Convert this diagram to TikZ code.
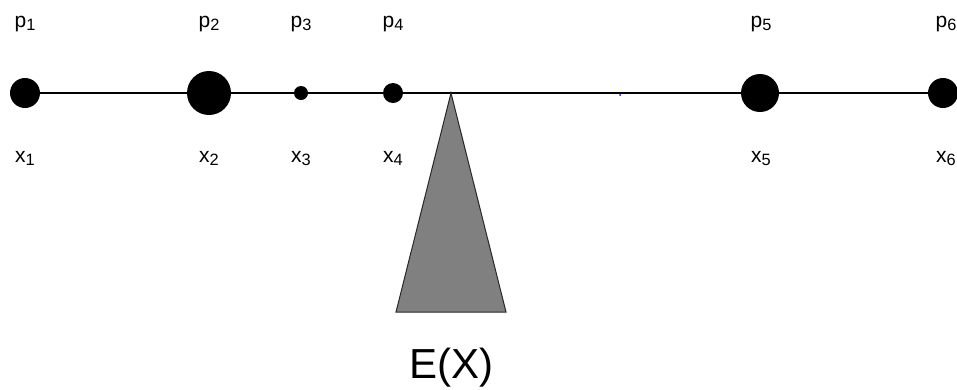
\documentclass[tikz,border=0pt]{standalone}
\usepackage{fontspec}
\setmainfont{Liberation Sans}
\usetikzlibrary{backgrounds}
\newcommand\lsub[1]{\raisebox{-0.32ex}{\scalebox{0.78}{#1}}}
\begin{document}
\begin{tikzpicture}[x=1pt,y=-1pt,
  dot/.style={circle,fill=black,inner sep=0pt,minimum size=#1},
  lbl/.style={anchor=base,inner sep=0pt,font=\fontsize{21}{24}\selectfont}]
\useasboundingbox (0,0) rectangle (957,389);
% points
\node[dot=30pt] (d1) at (25,93) {};
\node[dot=44pt] (d2) at (209,93) {};
\node[dot=14pt] (d3) at (301,93) {};
\node[dot=20pt] (d4) at (393,93) {};
\node[dot=38pt] (d5) at (760,93) {};
\node[dot=30pt] (d6) at (943,93) {};
\coordinate (apex) at (451,93);
\begin{pgfonlayer}{background}
\draw[line width=1.4pt] (d1.center) -- (d6.center);
\end{pgfonlayer}
% small blue mark
\node[circle,fill=blue,inner sep=0pt,minimum size=2pt] (bm) at (620,95) {};
% labels
\node[lbl] (p1) at (25,27) {p\lsub{1}};
\node[lbl] (p2) at (209,27) {p\lsub{2}};
\node[lbl] (p3) at (301,27) {p\lsub{3}};
\node[lbl] (p4) at (393,27) {p\lsub{4}};
\node[lbl] (p5) at (761,27) {p\lsub{5}};
\node[lbl] (p6) at (946,27) {p\lsub{6}};
\node[lbl] (x1) at (25,162) {x\lsub{1}};
\node[lbl] (x2) at (209,162) {x\lsub{2}};
\node[lbl] (x3) at (301,162) {x\lsub{3}};
\node[lbl] (x4) at (393,162) {x\lsub{4}};
\node[lbl] (x5) at (761,162) {x\lsub{5}};
\node[lbl] (x6) at (946,162) {x\lsub{6}};
% fulcrum
\draw[fill={rgb,255:red,128;green,128;blue,128},draw={rgb,255:red,40;green,40;blue,40},line width=1pt,line join=miter]
  (apex) -- (506,312) -- (396,312) -- cycle;
\node[anchor=base,inner sep=0pt,font=\fontsize{42}{48}\selectfont] (ex) at (451,378) {E(X)};
\end{tikzpicture}
\end{document}
